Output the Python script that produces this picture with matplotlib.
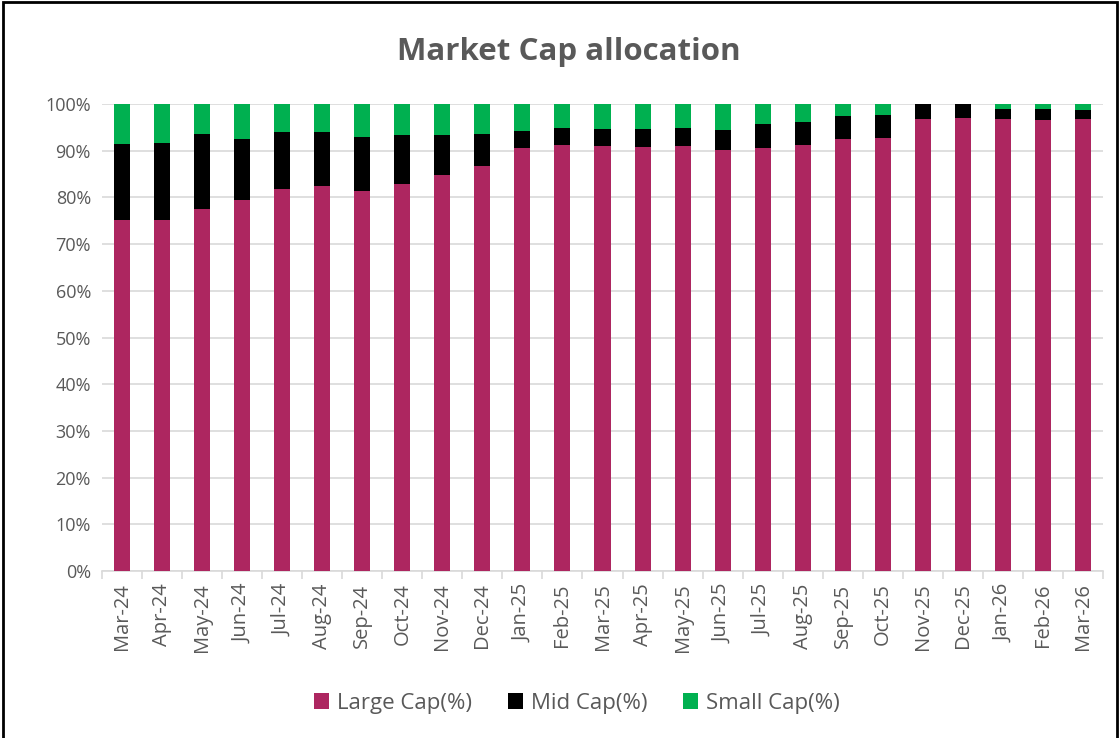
import matplotlib
matplotlib.use("Agg")
import matplotlib.pyplot as plt
from matplotlib.patches import Rectangle
from matplotlib.ticker import PercentFormatter, FixedLocator
import numpy as np

months = ["Mar-24", "Apr-24", "May-24", "Jun-24", "Jul-24", "Aug-24", "Sep-24", "Oct-24",
          "Nov-24", "Dec-24", "Jan-25", "Feb-25", "Mar-25", "Apr-25", "May-25", "Jun-25",
          "Jul-25", "Aug-25", "Sep-25", "Oct-25", "Nov-25", "Dec-25", "Jan-26", "Feb-26", "Mar-26"]
large_cap = [75.2, 75.1, 77.5, 79.4, 81.7, 82.4, 81.4, 82.9, 84.8, 86.7, 90.6, 91.2, 90.9,
             90.8, 90.9, 90.2, 90.5, 91.2, 92.6, 92.7, 96.8, 96.9, 96.8, 96.6, 96.8]
mid_cap = [16.2, 16.6, 16.1, 13.2, 12.2, 11.5, 11.6, 10.5, 8.6, 6.9, 3.7, 3.7, 3.7,
           3.9, 4.0, 4.3, 5.3, 5.0, 4.9, 5.0, 3.2, 3.1, 2.2, 2.3, 2.0]
small_cap = [8.6, 8.3, 6.4, 7.4, 6.1, 6.1, 7.0, 6.6, 6.6, 6.4, 5.7, 5.1, 5.4,
             5.3, 5.1, 5.5, 4.2, 3.8, 2.5, 2.3, 0.0, 0.0, 1.0, 1.1, 1.2]
series_names = ["Large Cap(%)", "Mid Cap(%)", "Small Cap(%)"]
title = "Market Cap allocation"

colors = ["#AD2660", "#000000", "#00B050"]
text_color = "#595959"
plt.rcParams['font.family'] = ['Open Sans', 'DejaVu Sans']

fig = plt.figure(figsize=(11.2, 7.38), dpi=100)
ax = fig.add_axes([102/1120, 1 - 571/738, (1103 - 102)/1120, (571 - 104)/738])

x = np.arange(len(months))
L = np.array(large_cap) / 100
M = np.array(mid_cap) / 100
S = np.array(small_cap) / 100
w = 0.4
ax.bar(x, L, w, color=colors[0], label=series_names[0], zorder=3)
ax.bar(x, M, w, bottom=L, color=colors[1], label=series_names[1], zorder=3)
ax.bar(x, S, w, bottom=L + M, color=colors[2], label=series_names[2], zorder=3)

ax.set_xlim(-0.5, len(months) - 0.5)
ax.set_ylim(0, 1.0)
ax.yaxis.set_major_locator(FixedLocator(np.linspace(0, 1, 11)))
ax.yaxis.set_major_formatter(PercentFormatter(1.0, decimals=0))
ax.grid(axis='y', color='#D9D9D9', linewidth=1.2, zorder=0)
for s in ['top', 'right', 'left']:
    ax.spines[s].set_visible(False)
ax.spines['bottom'].set_color('#D9D9D9')
ax.spines['bottom'].set_linewidth(1.2)
ax.tick_params(axis='y', length=0, labelsize=13, labelcolor=text_color, pad=8)
ax.set_xticks(x)
ax.set_xticklabels(months, rotation=90, fontsize=14.5, color=text_color)
ax.tick_params(axis='x', length=0, pad=9)
ax.set_xticks(np.arange(-0.5, len(months), 1), minor=True)
ax.tick_params(axis='x', which='minor', length=6, color='#D9D9D9', width=1.2)

fig.text(0.508, 1 - 52/738, title, ha='center', va='center', fontsize=22.5,
         fontweight='bold', color=text_color)

leg = fig.legend(loc='center', bbox_to_anchor=(0.515, 1 - 703/738), ncol=3, frameon=False,
                 fontsize=16, handlelength=0.7, handleheight=0.7, handletextpad=0.35,
                 columnspacing=1.6, labelcolor=text_color)

fig.patches.append(Rectangle((0.003, -0.01), 0.994, 1.007, transform=fig.transFigure,
                             fill=False, edgecolor='black', linewidth=2, zorder=10))

fig.savefig("out.png", dpi=100)
